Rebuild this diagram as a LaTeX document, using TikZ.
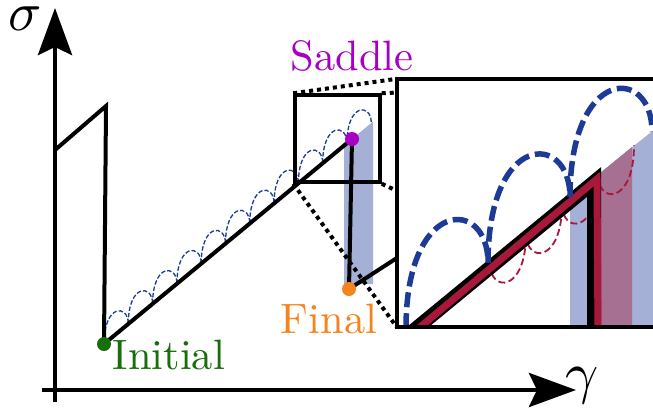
\documentclass[tikz,border=0pt]{standalone}
\usetikzlibrary{arrows.meta}
\definecolor{arcblue}{RGB}{28,58,150}
\definecolor{shadeblue}{RGB}{164,176,213}
\definecolor{mauve}{RGB}{165,112,146}
\definecolor{crimson}{RGB}{168,24,58}
\definecolor{initgreen}{RGB}{25,110,12}
\definecolor{finalorange}{RGB}{246,132,30}
\definecolor{saddlepurple}{RGB}{165,0,195}
\tikzset{
  axisline/.style={line width=4.5pt,-{Stealth[length=47pt,width=34pt,inset=8pt]}},
  mainline/.style={line width=4pt,line join=miter},
  smallarc/.style={arcblue,line width=1.3pt,dash pattern=on 4.5pt off 2pt},
  bigarc/.style={arcblue,line width=5.5pt,dash pattern=on 15pt off 6pt},
  redarc/.style={crimson,line width=1.8pt,dash pattern=on 7pt off 3.5pt},
  dotline/.style={line width=4pt,dash pattern=on 4pt off 4pt},
  statedot/.style={circle,inner sep=0pt,minimum size=14pt},
  lbl/.style={anchor=base west,inner sep=0pt,scale=4.25},
}
\begin{document}
\begin{tikzpicture}[x=1pt,y=-1pt]
\useasboundingbox (0,0) rectangle (653,413);
% axes
\coordinate (yb) at (55,402);
\coordinate (yt) at (55,8);
\coordinate (xl) at (42,390);
\coordinate (xr) at (576,390);
\draw[axisline] (yb) -- (yt);
\draw[axisline] (xl) -- (xr);
\node[anchor=base west,inner sep=0pt,scale=5.5] (siglbl) at (7,30) {$\sigma$};
\node[anchor=base west,inner sep=0pt,scale=5.8] (gamlbl) at (564,392) {$\gamma$};
% key points
\coordinate (s0) at (55,150);
\coordinate (s1) at (106,106);
\coordinate (pi) at (104,344);
\coordinate (ps) at (352,139);
\coordinate (pf) at (349,289);
\coordinate (pe) at (420,243);
% shaded band
\fill[shadeblue] (344,145.6) -- (373,121.6) -- (373,284) -- (344,284) -- cycle;
% small hopping arcs
\foreach \k in {0,...,10}{
  \pgfmathsetmacro\xa{104+24.3*\k}
  \pgfmathsetmacro\ya{344-20.09*\k}
  \pgfmathsetmacro\xb{\xa+24.3}
  \pgfmathsetmacro\yb{\ya-20.09}
  \pgfmathsetmacro\yc{\ya-40.2}
  \draw[smallarc] (\xa,\ya) .. controls (\xa,\yc) and (\xb,\yc) .. (\xb,\yb);
}
% main curve
\draw[mainline] (s0) -- (s1) -- (pi) -- (ps) -- (pf) -- (pe);
\node[statedot,fill=initgreen] (ini) at (pi) {};
\node[statedot,fill=saddlepurple] (sad) at (ps) {};
\node[statedot,fill=finalorange] (fin) at (pf) {};
% zoom box and inset frame
\node[draw,line width=3.5pt,inner sep=0pt,minimum width=85pt,minimum height=87pt] (zoombox) at (337.5,138.5) {};
\path node[inner sep=0pt,minimum width=291pt,minimum height=248pt] (inset) at (542.5,203) {};
\draw[dotline] (zoombox.north west) -- (inset.north west);
\draw[dotline] (zoombox.south west) -- (inset.south west);
\draw[dotline] (zoombox.north east) -- (inset.north east);
\draw[dotline] (zoombox.south east) -- (inset.south east);
\fill[white] (inset.north west) rectangle (inset.south east);
\begin{scope}
  \clip (inset.north west) rectangle (inset.south east);
  \fill[shadeblue] (570,197) -- (700,93) -- (700,340) -- (570,340) -- cycle;
  \fill[mauve] (598,174.8) -- (632,146.9) -- (632,340) -- (598,340) -- cycle;
  \foreach \k in {0,...,3}{
    \pgfmathsetmacro\xa{490+36*\k}
    \pgfmathsetmacro\ya{263.3-29.5*\k}
    \pgfmathsetmacro\xb{\xa+36}
    \pgfmathsetmacro\yb{\ya-29.5}
    \pgfmathsetmacro\yc{\ya+29.5}
    \draw[redarc] (\xa,\ya) .. controls (\xa,\yc) and (\xb,\yc) .. (\xb,\yb);
  }
  \draw[line width=14pt,line join=miter] (402,340) -- (594,182) -- (594,340);
  \draw[crimson,line width=7pt,line join=miter] (407,338) -- (597,179) -- (598,340);
  \foreach \k in {0,...,2}{
    \pgfmathsetmacro\xa{406+82*\k}
    \pgfmathsetmacro\ya{328.2-65.6*\k}
    \pgfmathsetmacro\xb{\xa+82}
    \pgfmathsetmacro\yb{\ya-65.6}
    \pgfmathsetmacro\yc{\ya-131.2}
    \draw[bigarc] (\xa,\ya) .. controls (\xa,\yc) and (\xb,\yc) .. (\xb,\yb);
  }
\end{scope}
\draw[line width=4.5pt] (inset.north west) rectangle (inset.south east);
% labels
\node[lbl,text=initgreen] (initlbl) at (112,369) {Initial};
\node[lbl,text=finalorange] (finlbl) at (280,333) {Final};
\node[lbl,text=saddlepurple] (sadlbl) at (290,70) {Saddle};
\end{tikzpicture}
\end{document}
